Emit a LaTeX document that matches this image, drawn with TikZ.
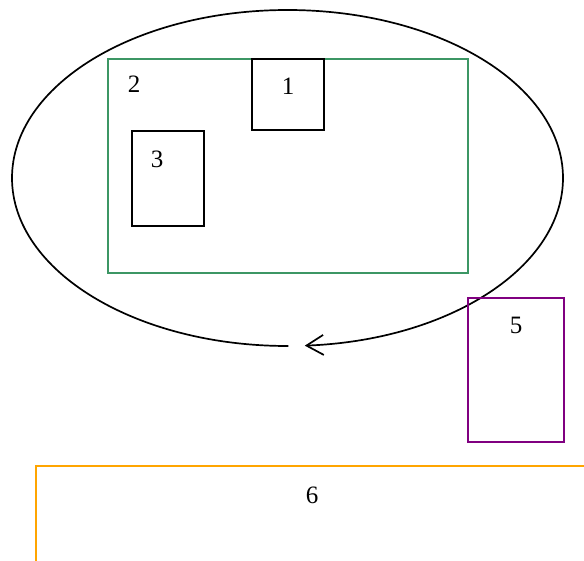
\documentclass[tikz,border=0pt]{standalone}
\usepackage{fontspec}
\setmainfont{Liberation Serif}
\usetikzlibrary{arrows.meta,positioning}
\definecolor{grpgreen}{RGB}{60,150,100}
\definecolor{grppurple}{RGB}{128,0,128}
\definecolor{grporange}{RGB}{255,165,0}

\begin{document}
\begin{tikzpicture}[x=1pt,y=-1pt,font=\fontsize{25}{30}\selectfont,
 blk/.style={draw,line width=1.7pt,inner sep=0pt},
 grp/.style={draw,line width=1.6pt,inner sep=0pt},
 tag/.style={inner sep=0pt}]
\useasboundingbox (0,0) rectangle (584,561);
\clip (0,0) rectangle (584,561);
% loop round the group
\coordinate (loopc) at (287.5,178);
\draw[line width=1.7pt,-{Straight Barb[length=17pt,width=20pt,line width=1.7pt]}]
 ([shift={(270.2:275.5pt and 168pt)}]loopc) arc[start angle=270.2,end angle=-86.4,x radius=275.5pt,y radius=168pt];
\node[grp,draw=grpgreen,minimum width=360pt,minimum height=214pt] (two) at (288,166) {};
\node[blk,fill=white,minimum width=72pt,minimum height=71pt] (one) at (288,94.5) {};
\node[blk,minimum width=72pt,minimum height=95pt] (three) at (168,178.5) {};
\node[grp,draw=grppurple,minimum width=96pt,minimum height=144pt] (five) at (516,370) {};
\node[grp,draw=grporange,minimum width=552pt,minimum height=144pt] (six) at (312,538) {};
\node[tag] at ([yshift=-28pt]one.north) {1};
\node[tag] at ([shift={(27pt,-26pt)}]two.north west) {2};
\node[tag] at ([shift={(26pt,-29pt)}]three.north west) {3};
\node[tag] at ([yshift=-28pt]five.north) {5};
\node[tag] at ([yshift=-30pt]six.north) {6};
\end{tikzpicture}
\end{document}
